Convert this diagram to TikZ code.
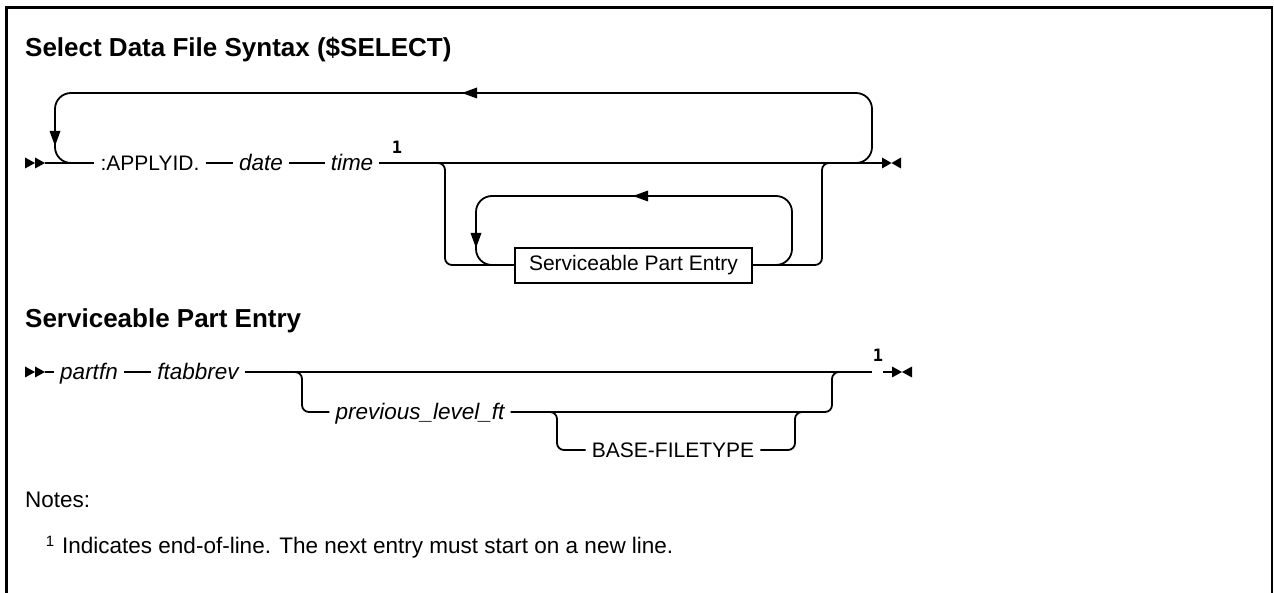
\documentclass[tikz,border=0pt]{standalone}
\usepackage{fontspec}
\setmainfont{Liberation Sans}
\newfontfamily\supfont{DejaVu Sans Mono}
\begin{document}
\begin{tikzpicture}[x=1pt,y=-1pt,
  ln/.style={line width=1.8pt},
  rr/.style={line width=1.8pt, rounded corners=16pt},
  br/.style={line width=1.8pt, rounded corners=7pt},
  lbl/.style={inner xsep=6pt, inner ysep=0pt, anchor=base, font=\fontsize{21}{25}\selectfont},
  ilbl/.style={lbl, font=\fontsize{22.5}{26}\selectfont\itshape},
  ttl/.style={inner sep=0pt, anchor=base west, font=\fontsize{26}{30}\selectfont\bfseries},
  note/.style={inner sep=0pt, anchor=base west, font=\fontsize{22.5}{26}\selectfont},
  supl/.style={inner sep=0pt, font=\fontsize{17}{19}\selectfont\supfont\bfseries}
]
\useasboundingbox (0,0) rectangle (1274,593);
% frame
\coordinate (fa) at (6.5,593);
\coordinate (fb) at (6.5,7.5);
\coordinate (fc) at (1272,7.5);
\coordinate (fd) at (1272,593);
\draw[line width=2.5pt, line join=miter] (fa) -- (fb) -- (fc) -- (fd);

% titles
\node[ttl] (t1) at (25,57) {Select Data File Syntax (\$SELECT)};
\node[ttl] (t2) at (25,328) {Serviceable Part Entry};

% ===== diagram 1 =====
\coordinate (m1) at (45,163);
\node[lbl] (apply) at (150,170.5) {:APPLYID.};
\node[ilbl] (date) at (261,170.5) {date};
\node[ilbl] (time) at (352,170.5) {time};
\node[supl] (s1) at (397,147.5) {1};
\coordinate (e1) at (883,163);
% start arrow
\fill (25,157.5) -- (35,163) -- (25,168.5) -- cycle;
\fill (35,157.5) -- (45,163) -- (35,168.5) -- cycle;
\draw[ln] (m1) -- (m1 -| apply.west);
\draw[ln] (apply.east |- m1) -- (date.west |- m1);
\draw[ln] (date.east |- m1) -- (time.west |- m1);
\draw[ln] (time.east |- m1) -- (e1);
% end arrow
\fill (882,157.5) -- (891.5,163) -- (882,168.5) -- cycle;
\fill (901,157.5) -- (891.5,163) -- (901,168.5) -- cycle;
% outer repeat loop
\coordinate (l1) at (90,163);
\coordinate (l2) at (55,163);
\coordinate (l3) at (55,93);
\coordinate (l4) at (872,93);
\coordinate (l5) at (872,163);
\coordinate (l6) at (840,163);
\draw[rr] (l1) -- (l2) -- (l3) -- (l4) -- (l5) -- (l6);
\fill (49.5,131) -- (60.5,131) -- (55,146) -- cycle;
\fill (462,93) -- (477,87.5) -- (477,98.5) -- cycle;
% optional branch with box
\node[draw, line width=1.6pt, minimum width=237pt, minimum height=35pt, inner sep=0pt,
      font=\fontsize{21}{25}\selectfont, fill=white] (box) at (633.5,265.5) {Serviceable Part Entry};
\coordinate (b1) at (425,163);
\coordinate (b2) at (445,163);
\coordinate (b3) at (445,265);
\coordinate (b4) at (822,265);
\coordinate (b5) at (822,163);
\coordinate (b6) at (842,163);
\draw[br] (b1) -- (b2) -- (b3) -- (box.west |- b3);
\draw[br] (box.east |- b4) -- (b4) -- (b5) -- (b6);
% inner repeat loop
\coordinate (i1) at (505,265);
\coordinate (i2) at (476,265);
\coordinate (i3) at (476,196);
\coordinate (i4) at (792,196);
\coordinate (i5) at (792,265);
\coordinate (i6) at (760,265);
\draw[rr] (i1) -- (i2) -- (i3) -- (i4) -- (i5) -- (i6);
\fill (470.5,233) -- (481.5,233) -- (476,248) -- cycle;
\fill (633,196) -- (648,190.5) -- (648,201.5) -- cycle;

% ===== diagram 2 =====
\coordinate (m2) at (45,372);
\node[ilbl] (partfn) at (89,379.5) {partfn};
\node[ilbl] (ftab) at (198,379.5) {ftabbrev};
\node[ilbl] (prev) at (420,419.5) {previous\_level\_ft};
\node[lbl] (basef) at (673,457.5) {BASE-FILETYPE};
\node[supl] (s2) at (878,355.5) {1};
\coordinate (e2) at (872,372);
\coordinate (e2a) at (883,372);
\coordinate (e2b) at (893,372);
\fill (25,366.5) -- (35,372) -- (25,377.5) -- cycle;
\fill (35,366.5) -- (45,372) -- (35,377.5) -- cycle;
\draw[ln] (m2) -- (m2 -| partfn.west);
\draw[ln] (partfn.east |- m2) -- (ftab.west |- m2);
\draw[ln] (ftab.east |- m2) -- (e2);
\draw[ln] (e2a) -- (e2b);
\fill (892,366.5) -- (902,372) -- (892,377.5) -- cycle;
\fill (912,366.5) -- (902,372) -- (912,377.5) -- cycle;
% branch 1
\coordinate (p1) at (285,372);
\coordinate (p2) at (302,372);
\coordinate (p3) at (302,412);
\coordinate (p4) at (832,412);
\coordinate (p5) at (832,372);
\coordinate (p6) at (850,372);
\draw[br] (p1) -- (p2) -- (p3) -- (p3 -| prev.west);
\draw[br] (prev.east |- p4) -- (p4) -- (p5) -- (p6);
% branch 2
\coordinate (q1) at (540,412);
\coordinate (q2) at (557,412);
\coordinate (q3) at (557,450);
\coordinate (q4) at (795,450);
\coordinate (q5) at (795,412);
\coordinate (q6) at (812,412);
\draw[br] (q1) -- (q2) -- (q3) -- (q3 -| basef.west);
\draw[br] (basef.east |- q4) -- (q4) -- (q5) -- (q6);

% notes
\node[note] (notes) at (25,507) {Notes:};
\node[inner sep=0pt, font=\fontsize{15}{17}\selectfont] (n1) at (50,541) {1};
\node[note] (ntext) at (62,553) {Indicates end-of-line. The next entry must start on a new line.};
\end{tikzpicture}
\end{document}
